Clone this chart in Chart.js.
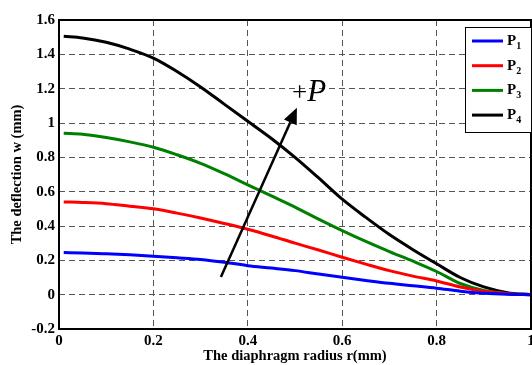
<!DOCTYPE html>
<html>
<head>
<meta charset="utf-8">
<script src="https://cdn.jsdelivr.net/npm/chart.js@4.4.0/dist/chart.umd.min.js"></script>
<style>
    html, body { margin: 0; padding: 0; background: #fff; }
</style>
</head>
<body>
<canvas id="deflectionChart" width="532" height="365"></canvas>
<script>
const radius = [0.01, 0.05, 0.1, 0.15, 0.2, 0.25, 0.3, 0.35, 0.4, 0.45, 0.5,
                0.55, 0.6, 0.65, 0.7, 0.75, 0.8, 0.85, 0.9, 0.95, 1.0];

// deflection w (mm) for each load
const p1 = [0.245, 0.243, 0.238, 0.232, 0.224, 0.215, 0.205, 0.189, 0.169, 0.155, 0.14,
            0.12, 0.101, 0.083, 0.066, 0.052, 0.038, 0.02, 0.008, 0.002, 0];
const p2 = [0.54, 0.537, 0.53, 0.515, 0.50, 0.475, 0.447, 0.415, 0.381, 0.342, 0.30,
            0.26, 0.218, 0.178, 0.14, 0.108, 0.08, 0.045, 0.02, 0.006, 0];
const p3 = [0.94, 0.935, 0.915, 0.89, 0.859, 0.815, 0.765, 0.705, 0.64, 0.575, 0.51,
            0.44, 0.373, 0.31, 0.251, 0.195, 0.135, 0.065, 0.024, 0.006, 0];
const p4 = [1.505, 1.495, 1.47, 1.43, 1.378, 1.30, 1.21, 1.11, 1.01, 0.91, 0.80,
            0.68, 0.556, 0.45, 0.35, 0.262, 0.18, 0.10, 0.045, 0.012, 0];

const seriesNames = ['1', '2', '3', '4'];   // subscripts of P
const seriesColors = ['#0000ff', '#ff0000', '#008000', '#000000'];

const xTicks = [0, 0.2, 0.4, 0.6, 0.8, 1];
const yTicks = [-0.2, 0, 0.2, 0.4, 0.6, 0.8, 1, 1.2, 1.4, 1.6];

// arrow "+P": from [r, w] to [r, w]
const arrowFrom = [0.343, 0.103];
const arrowTo = [0.504, 1.089];
const arrowLabelAt = [0.53, 1.2];

const serif = "'Liberation Serif', 'Times New Roman', serif";

function points(ys) {
    return radius.map((r, i) => ({ x: r, y: ys[i] }));
}

// box, arrow, +P and the legend with subscripts
const extras = {
    id: 'extras',
    afterDatasetsDraw(chart) {
        const { ctx, chartArea: a, scales: { x, y } } = chart;
        ctx.save();

        // frame around the plot
        ctx.strokeStyle = '#000';
        ctx.lineWidth = 2;
        ctx.strokeRect(a.left, a.top, a.right - a.left, a.bottom - a.top);

        // arrow
        const x0 = x.getPixelForValue(arrowFrom[0]), y0 = y.getPixelForValue(arrowFrom[1]);
        const x1 = x.getPixelForValue(arrowTo[0]), y1 = y.getPixelForValue(arrowTo[1]);
        const ang = Math.atan2(y1 - y0, x1 - x0);
        const headLen = 16, headW = 7;
        const bx = x1 - headLen * Math.cos(ang), by = y1 - headLen * Math.sin(ang);
        ctx.lineWidth = 2.5;
        ctx.beginPath();
        ctx.moveTo(x0, y0);
        ctx.lineTo(bx, by);
        ctx.stroke();
        ctx.fillStyle = '#000';
        ctx.beginPath();
        ctx.moveTo(x1, y1);
        ctx.lineTo(bx + headW * Math.sin(ang), by - headW * Math.cos(ang));
        ctx.lineTo(bx - headW * Math.sin(ang), by + headW * Math.cos(ang));
        ctx.closePath();
        ctx.fill();

        // +P
        const lx = x.getPixelForValue(arrowLabelAt[0]), ly = y.getPixelForValue(arrowLabelAt[1]);
        ctx.textBaseline = 'alphabetic';
        ctx.textAlign = 'left';
        ctx.font = '27px ' + serif;
        const plusW = ctx.measureText('+').width;
        ctx.font = 'italic 31px ' + serif;
        const pW = ctx.measureText('P').width;
        const start = lx - (plusW + pW) / 2;
        ctx.font = '27px ' + serif;
        ctx.fillText('+', start, ly + 12);
        ctx.font = 'italic 31px ' + serif;
        ctx.fillText('P', start + plusW, ly + 12);

        // legend
        const bw = 66, bh = 105;
        const lxl = a.right - bw, lyt = a.top + 7;
        ctx.fillStyle = '#fff';
        ctx.fillRect(lxl, lyt, bw, bh);
        ctx.strokeStyle = '#000';
        ctx.lineWidth = 1;
        ctx.strokeRect(lxl + 0.5, lyt + 0.5, bw, bh);
        seriesNames.forEach((n, i) => {
            const yy = lyt + 14 + i * 24.7;
            ctx.strokeStyle = seriesColors[i];
            ctx.lineWidth = 3;
            ctx.beginPath();
            ctx.moveTo(lxl + 7, yy);
            ctx.lineTo(lxl + 38, yy);
            ctx.stroke();
            ctx.fillStyle = '#000';
            ctx.font = 'bold 15px ' + serif;
            ctx.fillText('P', lxl + 42, yy + 4);
            const w = ctx.measureText('P').width;
            ctx.font = 'bold 10px ' + serif;
            ctx.fillText(n, lxl + 42 + w, yy + 8);
        });

        ctx.restore();
    }
};

const tickLabel = v => String(+v.toFixed(2));

const ctx = document.getElementById('deflectionChart').getContext('2d');

const deflectionChart = new Chart(ctx, {
    type: 'line',
    data: {
        datasets: [p1, p2, p3, p4].map((s, i) => ({
            label: 'P' + seriesNames[i],
            data: points(s),
            borderColor: seriesColors[i],
            borderWidth: 3,
            pointRadius: 0,
            fill: false,
            cubicInterpolationMode: 'monotone'
        }))
    },
    options: {
        responsive: false,
        animation: false,
        layout: { padding: { top: 20, right: 1, left: 0, bottom: 0 } },
        plugins: {
            legend: { display: false },
            tooltip: { enabled: false }
        },
        scales: {
            x: {
                type: 'linear',
                min: 0,
                max: 1,
                afterBuildTicks: axis => { axis.ticks = xTicks.map(v => ({ value: v })); },
                afterFit: axis => {
                    axis.height = 36;
                    axis.paddingLeft = 0;
                    axis.paddingRight = 0;
                },
                grid: { color: '#555', lineWidth: 1, drawTicks: false },
                border: { display: false, dash: [6, 4] },
                ticks: {
                    padding: 3,
                    color: '#000',
                    maxRotation: 0,
                    callback: tickLabel,
                    font: { family: serif, size: 15, weight: 'bold' }
                },
                title: {
                    display: true,
                    text: 'The diaphragm radius r(mm)',
                    color: '#000',
                    padding: { top: 0, bottom: 0 },
                    font: { family: serif, size: 14.5, weight: 'bold' }
                }
            },
            y: {
                min: -0.2,
                max: 1.6,
                afterBuildTicks: axis => { axis.ticks = yTicks.map(v => ({ value: v })); },
                afterFit: axis => {
                    axis.width = 59;
                    axis.paddingTop = 0;
                    axis.paddingBottom = 0;
                },
                grid: { color: '#555', lineWidth: 1, drawTicks: false },
                border: { display: false, dash: [6, 4] },
                ticks: {
                    padding: 4,
                    color: '#000',
                    callback: tickLabel,
                    font: { family: serif, size: 15, weight: 'bold' }
                },
                title: {
                    display: true,
                    text: 'The deflection w (mm)',
                    color: '#000',
                    padding: { top: 9, bottom: 0 },
                    font: { family: serif, size: 14.5, weight: 'bold' }
                }
            }
        }
    },
    plugins: [extras]
});
</script>
</body>
</html>
